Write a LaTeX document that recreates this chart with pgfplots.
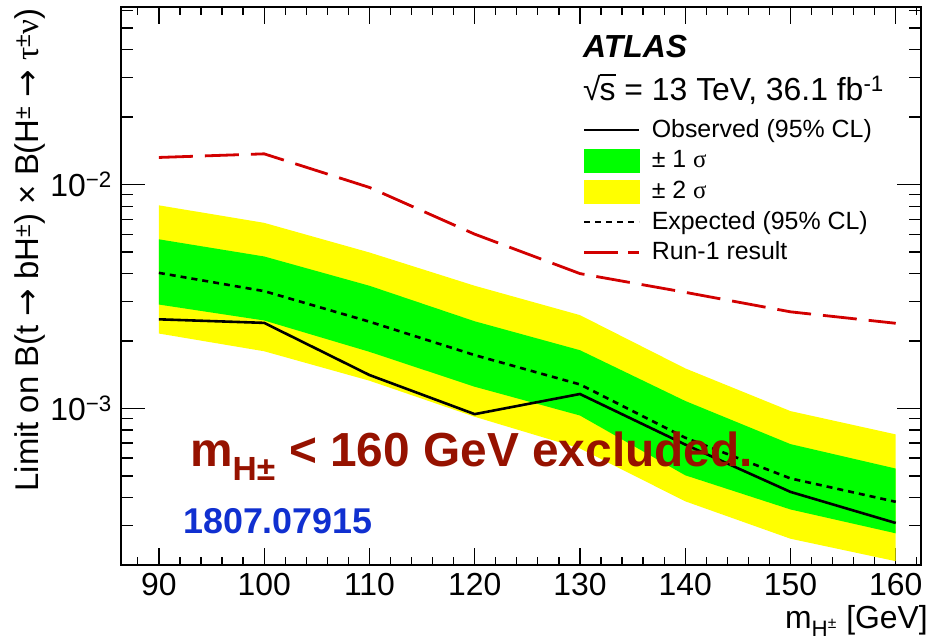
\documentclass[border=0pt]{standalone}
\usepackage{fontspec}
\setmainfont{Liberation Sans}
\newfontfamily\serif{Liberation Serif}
\newfontfamily\dejavu{DejaVu Sans}
\usepackage{pgfplots}
\pgfplotsset{compat=1.18}
\usepgfplotslibrary{fillbetween}
\definecolor{runred}{RGB}{210,0,0}
\definecolor{exred}{RGB}{150,18,0}
\definecolor{arxblue}{RGB}{16,48,208}
\definecolor{bandgreen}{RGB}{0,255,0}
\definecolor{bandyellow}{RGB}{255,255,0}
\newcommand{\arr}{ {\dejavu →} }
\begin{document}
\begin{tikzpicture}
\begin{axis}[
  at={(0,0)}, anchor=south west,
  scale only axis, width=800bp, height=558bp,
  ymode=log,
  xmin=86.4, xmax=162.4, ymin=2e-4, ymax=0.062,
  xtick={90,100,...,160},
  minor xtick={88,90,...,162},
  ytick={0.001,0.01},
  yticklabels={10\textsuperscript{−3},10\textsuperscript{−2}},
  minor ytick={2e-4,3e-4,4e-4,5e-4,6e-4,7e-4,8e-4,9e-4,2e-3,3e-3,4e-3,5e-3,6e-3,7e-3,8e-3,9e-3,2e-2,3e-2,4e-2,5e-2,6e-2},
  tick align=inside,
  major tick length=24bp, minor tick length=12bp,
  xtick style={/pgfplots/major tick length=17bp,/pgfplots/minor tick length=8bp},
  axis line style={line width=1.6bp},
  every tick/.style={line width=1.3bp, black},
  /pgf/number format/assume math mode=true,
  tick label style={font=\fontsize{32}{32}\selectfont},
  every x tick label/.append style={inner sep=0pt, yshift=-8bp},
  every y tick label/.append style={inner sep=0pt, xshift=-9bp},
  xlabel={m\textsubscript{H\textsuperscript{±}} [GeV]},
  xlabel style={font=\fontsize{32}{32}\selectfont, at={([xshift=7bp,yshift=-63bp]rel axis cs:1,0)}, anchor=base east, inner sep=0pt},
  ylabel={Limit on B(t\arr bH\textsuperscript{±}) × B(H\textsuperscript{±}\arr{\serif τ}\textsuperscript{±}{\serif ν})},
  ylabel style={font=\fontsize{33}{33}\selectfont, at={([xshift=-82bp,yshift=-1bp]rel axis cs:0,1)}, anchor=base east, inner sep=0pt},
  legend style={at={(rel axis cs:0.5775,0.801)}, anchor=north west, draw=none, fill=none,
    inner sep=0pt, outer sep=0pt, font=\fontsize{25}{25}\selectfont,
    row sep=6.7bp, column sep=11bp,
    nodes={inner sep=0pt, text height=19bp, text depth=5bp}},
  legend cell align=left,
]
% +-2 sigma band
\addplot[name path=yu, draw=none, forget plot] coordinates {(90,0.00807) (100,0.00674) (110,0.00497) (120,0.00353) (130,0.00261) (140,0.00151) (150,0.000973) (160,0.000766)};
\addplot[name path=yl, draw=none, forget plot] coordinates {(90,0.00216) (100,0.00180) (110,0.00133) (120,0.000918) (130,0.000663) (140,0.000385) (150,0.000262) (160,0.000208)};
\addplot[fill=bandyellow, draw=none, forget plot] fill between[of=yu and yl];
% +-1 sigma band
\addplot[name path=gu, draw=none, forget plot] coordinates {(90,0.00569) (100,0.00477) (110,0.00353) (120,0.00245) (130,0.00182) (140,0.00108) (150,0.000693) (160,0.000539)};
\addplot[name path=gl, draw=none, forget plot] coordinates {(90,0.00291) (100,0.00247) (110,0.00179) (120,0.00125) (130,0.00093) (140,0.000503) (150,0.000354) (160,0.000277)};
\addplot[fill=bandgreen, draw=none, forget plot] fill between[of=gu and gl];
% expected
\addplot[black, line width=2.6bp, dash pattern=on 6bp off 5bp, forget plot] coordinates {(90,0.00403) (100,0.00334) (110,0.00244) (120,0.00173) (130,0.00128) (140,0.00074) (150,0.000487) (160,0.000383)};
% observed
\addplot[black, line width=2.6bp, forget plot] coordinates {(90,0.00250) (100,0.00241) (110,0.00141) (120,0.000943) (130,0.00116) (140,0.00069) (150,0.000424) (160,0.000308)};
% run-1
\addplot[runred, line width=2.8bp, dash pattern=on 34bp off 12bp, forget plot] coordinates {(90,0.0132) (100,0.0137) (110,0.0097) (120,0.0060) (130,0.0040) (140,0.0033) (150,0.0027) (160,0.0024)};

\addlegendimage{legend image code/.code={\draw[black, line width=2.6bp] (0bp,0bp) -- (55bp,0bp);}}
\addlegendentry{Observed (95\% CL)}
\addlegendimage{legend image code/.code={\fill[bandgreen] (0bp,-11.5bp) rectangle (55bp,11.5bp);}}
\addlegendentry{± 1 {\serif σ}}
\addlegendimage{legend image code/.code={\fill[bandyellow] (0bp,-11.5bp) rectangle (55bp,11.5bp);}}
\addlegendentry{± 2 {\serif σ}}
\addlegendimage{legend image code/.code={\draw[black, line width=2.6bp, dash pattern=on 6bp off 5bp] (0bp,0bp) -- (55bp,0bp);}}
\addlegendentry{Expected (95\% CL)}
\addlegendimage{legend image code/.code={\draw[runred, line width=2.8bp, dash pattern=on 34bp off 10bp] (0bp,0bp) -- (55bp,0bp);}}
\addlegendentry{Run-1 result}

\node[anchor=base west, inner sep=0pt, font=\fontsize{32}{32}\selectfont\bfseries\itshape] at (rel axis cs:0.5775,0.9086) {ATLAS};
\node[anchor=base west, inner sep=0pt, font=\fontsize{32}{32}\selectfont] at (rel axis cs:0.5775,0.8333) {√\kern-1bp\rlap{\rule[24.5bp]{16bp}{1.5bp}}s = 13 TeV, 36.1 fb\textsuperscript{-1}};

\node[anchor=base west, inner sep=0pt, font=\fontsize{48}{48}\selectfont\bfseries, text=exred] at (rel axis cs:0.08625,0.1774) {m\textsubscript{H±} < 160 GeV excluded.};
\node[anchor=base west, inner sep=0pt, font=\fontsize{36}{36}\selectfont\bfseries, text=arxblue] at (rel axis cs:0.0775,0.0573) {1807.07915};
\end{axis}
\pgfresetboundingbox
\path[use as bounding box] (-121bp,-75bp) rectangle (811bp,565bp);
\end{tikzpicture}
\end{document}
